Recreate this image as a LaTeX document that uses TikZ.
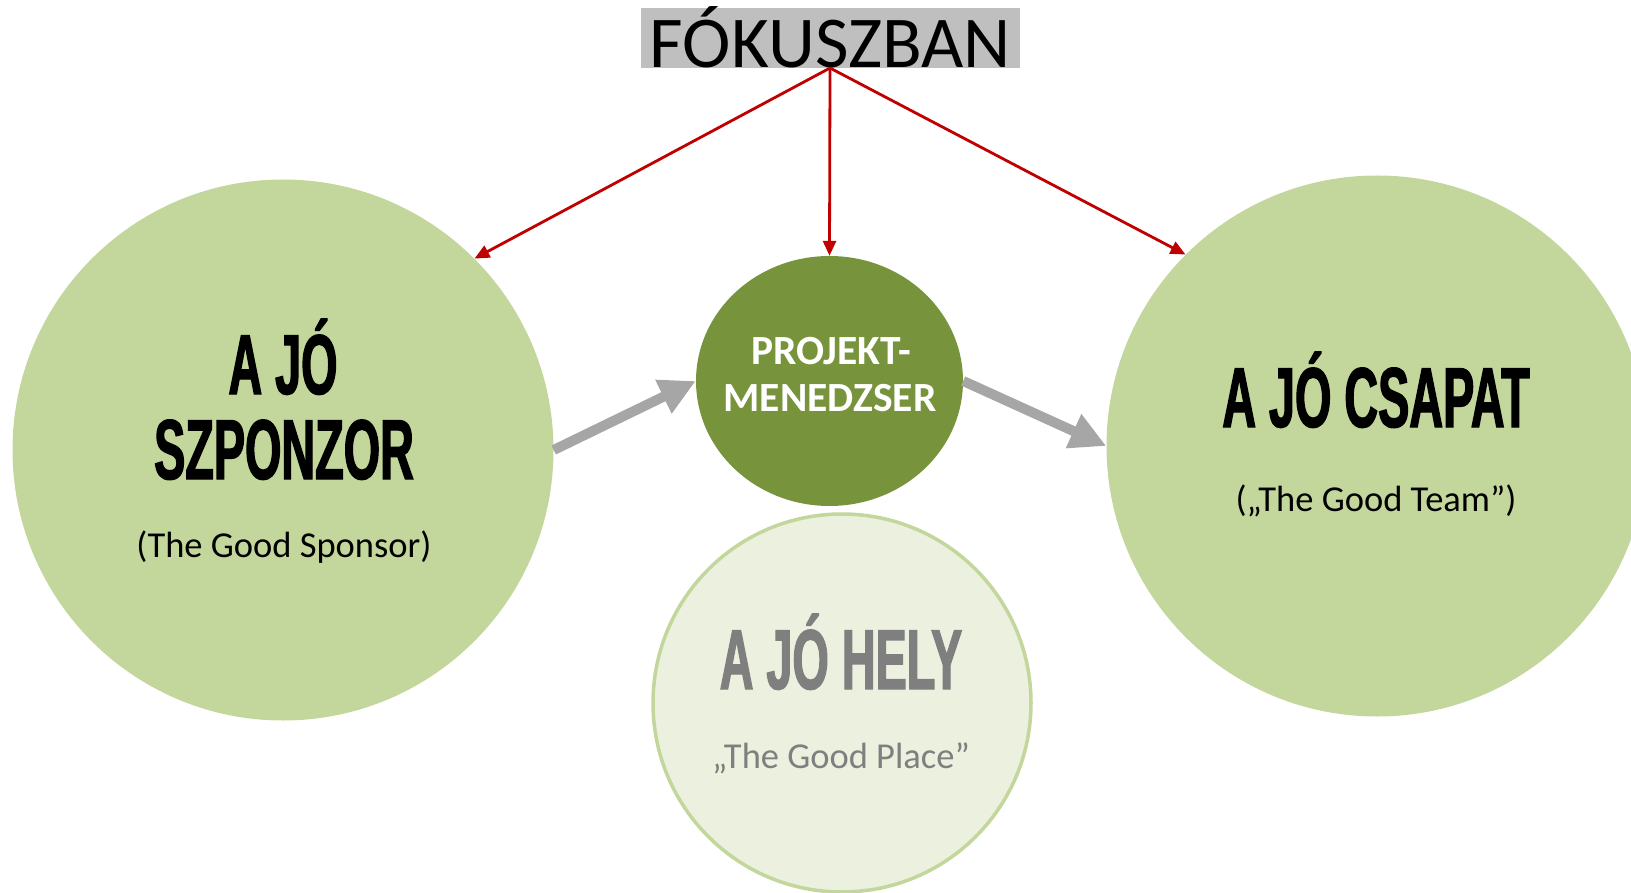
\documentclass[tikz,border=0pt]{standalone}
\usepackage{fontspec}
\setmainfont{Carlito}
\newfontfamily\bebas{Liberation Sans Bold}[FakeStretch=0.55,FakeBold=1.5]
\usetikzlibrary{arrows.meta,shapes.geometric}
\definecolor{lightgreen}{HTML}{C3D69B}
\definecolor{darkgreen}{HTML}{77933C}
\definecolor{palegreen}{HTML}{EBF1DE}
\definecolor{arrowgray}{HTML}{A6A6A6}
\definecolor{focusred}{HTML}{C00000}
\definecolor{boxgray}{HTML}{BFBFBF}
\definecolor{textgray}{HTML}{7F7F7F}
\tikzset{
  bigcircle/.style={circle, fill=lightgreen, inner sep=0pt, minimum size=541pt},
  titletext/.style={font=\bebas\fontsize{85}{90}\selectfont, anchor=base, inner sep=0pt},
  subtext/.style={font=\fontsize{36.5}{40}\selectfont, anchor=base, inner sep=0pt},
  redarrow/.style={draw=focusred, line width=2.8pt, -{Triangle[length=15pt,width=13pt]}},
  grayarrow/.style={draw=arrowgray, line width=10pt, -{Triangle[length=36pt,width=35pt]}}
}
\begin{document}
\begin{tikzpicture}[x=1pt,y=-1pt]
\useasboundingbox (0,0) rectangle (1631,893);
% focus box
\node[fill=boxgray, anchor=base, minimum width=379pt, inner xsep=0pt, inner ysep=0pt,
      text height=60pt, text depth=0pt, font=\fontsize{73}{77}\selectfont]
      (focus) at (830.5,68) {FÓKUSZBAN};
\coordinate (fo) at (830,68);
% circles
\node[bigcircle] (sponsor) at (283,450) {};
\node[bigcircle] (team) at (1377,446) {};
\node[ellipse, fill=darkgreen, inner sep=0pt, minimum width=267pt, minimum height=250pt] (pm) at (829.5,381) {};
\node[circle, fill=palegreen, draw=lightgreen, line width=3.5pt, inner sep=0pt, minimum size=378pt] (place) at (842,703) {};
% texts
\node[titletext] (s1) at (283,394) {A JÓ};
\node[titletext] (s2) at (284,479) {SZPONZOR};
\node[subtext] (s3) at (284,557) {(The Good Sponsor)};
\node[titletext] (t1) at (1376,427) {A JÓ CSAPAT};
\node[subtext] (t2) at (1376,511) {(„The Good Team”)};
\node[titletext, text=textgray] (h1) at (841,689) {A JÓ HELY};
\node[subtext, text=textgray] (h2) at (841,768) {„The Good Place”};
\node[font=\bfseries\fontsize{41.5}{46}\selectfont, text=white, anchor=base, inner sep=0pt] (p1) at (831,365) {PROJEKT-};
\node[font=\bfseries\fontsize{41.5}{46}\selectfont, text=white, anchor=base, inner sep=0pt] (p2) at (830,411) {MENEDZSER};
% arrows
\draw[redarrow] (fo) -- (sponsor.45);
\draw[redarrow] (fo) -- (pm.north);
\draw[redarrow] (fo) -- (team.135);
\draw[grayarrow] (sponsor.east) -- (pm.west);
\draw[grayarrow] (pm.east) -- (team.west);
\end{tikzpicture}
\end{document}
